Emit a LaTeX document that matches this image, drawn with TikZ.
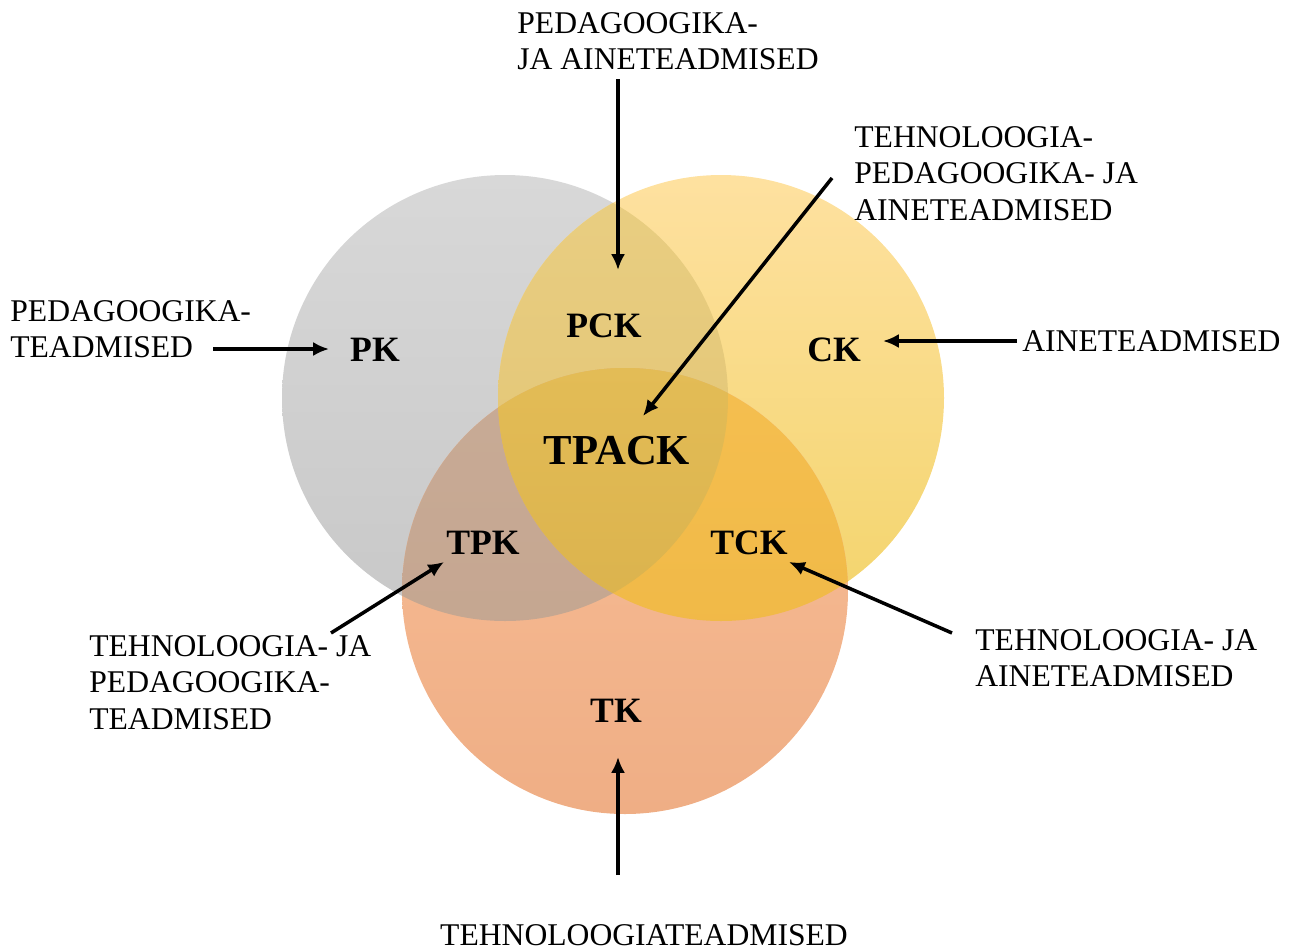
\documentclass[tikz,border=0pt]{standalone}
\usepackage{fontspec}
\setmainfont{Liberation Serif}
\usetikzlibrary{arrows.meta,positioning}
\definecolor{pkTop}{HTML}{D8D8D8}
\definecolor{pkBot}{HTML}{C8C8C8}
\definecolor{ckTop}{HTML}{FEE1A0}
\definecolor{ckBot}{HTML}{F3D46B}
\definecolor{tkTop}{HTML}{F8BE97}
\definecolor{tkBot}{HTML}{EFAE85}
\definecolor{pckTop}{HTML}{E9CE82}
\definecolor{pckBot}{HTML}{E1C372}
\definecolor{tpkTop}{HTML}{C8AB96}
\definecolor{tpkBot}{HTML}{C3A38D}
\definecolor{tckTop}{HTML}{F5BF50}
\definecolor{tckBot}{HTML}{EDB541}
\definecolor{allTop}{HTML}{E3BC56}
\definecolor{allBot}{HTML}{D4AB46}
\tikzset{
  txt/.style={inner sep=0pt, anchor=north west, align=left,
    font=\fontsize{18}{20.8}\selectfont},
  lbl/.style={inner sep=0pt, font=\fontsize{20.3}{24}\selectfont\bfseries},
  arr/.style={line width=2pt, -{Latex[length=9pt,width=8pt]}},
}

\begin{document}
\begin{tikzpicture}[x=0.02cm, y=-0.02cm]
        \useasboundingbox (0,0) rectangle (1295,951);
        \coordinate (pc) at (505,398);
        \coordinate (cc) at (721,398);
        \coordinate (tc) at (625,591);
        \def\rad{223}

        \shade[top color=pkTop, bottom color=pkBot] (pc) circle[radius=\rad];
        \shade[top color=ckTop, bottom color=ckBot] (cc) circle[radius=\rad];
        \shade[top color=tkTop, bottom color=tkBot] (tc) circle[radius=\rad];
        \begin{scope}
            \clip (pc) circle[radius=\rad];
            \shade[top color=pckTop, bottom color=pckBot] (cc) circle[radius=\rad];
            \shade[top color=tpkTop, bottom color=tpkBot] (tc) circle[radius=\rad];
        \end{scope}
        \begin{scope}
            \clip (cc) circle[radius=\rad];
            \shade[top color=tckTop, bottom color=tckBot] (tc) circle[radius=\rad];
        \end{scope}
        \begin{scope}
            \clip (pc) circle[radius=\rad];
            \clip (cc) circle[radius=\rad];
            \shade[top color=allTop, bottom color=allBot] (tc) circle[radius=\rad];
        \end{scope}

        \node[lbl] (pk) at (375,350) {PK};
        \node[lbl] (ck) at (834,350) {CK};
        \node[lbl] (tk) at (616,711) {TK};
        \node[lbl] (pck) at (604,326) {PCK};
        \node[lbl] (tpk) at (483,543) {TPK};
        \node[lbl] (tck) at (749,543) {TCK};
        \node[lbl, font=\fontsize{24.3}{28}\selectfont\bfseries] (tpack) at (617,451) {TPACK};

        \node[txt] (pck-txt) at (517,12) {PEDAGOOGIKA-\\JA AINETEADMISED};
        \node[txt] (tpack-txt) at (854,126) {TEHNOLOOGIA-\\PEDAGOOGIKA- JA\\AINETEADMISED};
        \node[txt] (pk-txt) at (10,300) {PEDAGOOGIKA-\\TEADMISED};
        \node[txt] (ck-txt) at (1022,330) {AINETEADMISED};
        \node[txt] (tpk-txt) at (89,635) {TEHNOLOOGIA- JA\\PEDAGOOGIKA-\\TEADMISED};
        \node[txt] (tck-txt) at (975,629) {TEHNOLOOGIA- JA\\AINETEADMISED};
        \node[txt, anchor=north] (tk-txt) at (644,924) {TEHNOLOOGIATEADMISED};

        \coordinate (pck-from) at (618,79);
        \coordinate (pck-to) at (618,270);
        \coordinate (tpack-from) at (832,178);
        \coordinate (tpack-to) at (643,416);
        \coordinate (pk-from) at (213,349);
        \coordinate (pk-to) at (329,349);
        \coordinate (ck-from) at (1017,341);
        \coordinate (ck-to) at (883,341);
        \coordinate (tpk-from) at (331,633);
        \coordinate (tpk-to) at (444,562);
        \coordinate (tck-from) at (952,633);
        \coordinate (tck-to) at (789,562);
        \coordinate (tk-from) at (618,875);
        \coordinate (tk-to) at (618,757);

        \draw[arr] (pck-from) -- (pck-to);
        \draw[arr] (tpack-from) -- (tpack-to);
        \draw[arr] (pk-from) -- (pk-to);
        \draw[arr] (ck-from) -- (ck-to);
        \draw[arr] (tpk-from) -- (tpk-to);
        \draw[arr] (tck-from) -- (tck-to);
        \draw[arr] (tk-from) -- (tk-to);
    \end{tikzpicture}
\end{document}
